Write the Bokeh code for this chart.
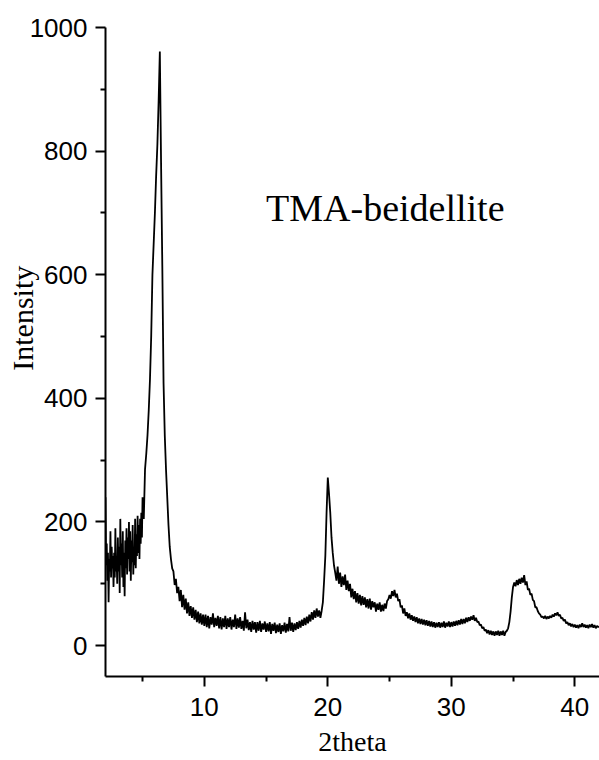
from bokeh.plotting import figure
from bokeh.models import Range1d, FixedTicker, Label
from bokeh.embed import file_html
from bokeh.resources import INLINE

# XRD pattern of TMA-beidellite.
# Low-angle part: 2theta 2.00 .. 4.95, step 0.05
low_start, low_step = 2.0, 0.05
intensity_low = [
    240, 130, 165, 105, 150, 70, 140, 120, 185, 110,
    160, 125, 145, 95, 150, 110, 190, 120, 140, 100,
    175, 120, 160, 85, 205, 130, 165, 110, 185, 95,
    150, 80, 170, 125, 190, 115, 175, 140, 200, 120,
    185, 105, 170, 135, 195, 115, 160, 130, 205, 125,
    180, 145, 210, 150, 195, 140, 205, 165, 215, 175,
]
# Main part: 2theta 5.0 .. 42.0, step 0.1
main_start, main_step = 5.0, 0.1
intensity_main = [
    240, 205, 285, 310, 340, 380, 430, 500, 600, 650,  # 5
    700, 760, 810, 880, 961, 780, 615, 425, 340, 285,  # 6
    240, 195, 160, 140, 125, 120, 98, 108, 85, 95,     # 7
    72, 90, 62, 82, 58, 76, 52, 70, 48, 64,            # 8
    45, 62, 42, 58, 38, 55, 36, 52, 34, 50,            # 9
    32, 50, 30, 48, 28, 46, 34, 52, 30, 45,            # 10
    32, 48, 28, 46, 26, 44, 30, 48, 27, 44,            # 11
    30, 46, 26, 42, 30, 50, 27, 44, 29, 46,            # 12
    27, 40, 24, 54, 28, 42, 25, 38, 22, 40,            # 13
    26, 38, 21, 38, 24, 40, 22, 36, 26, 39,            # 14
    22, 36, 23, 38, 19, 35, 24, 37, 20, 34,            # 15
    22, 36, 19, 33, 23, 37, 21, 35, 23, 46,            # 16
    24, 37, 22, 36, 25, 38, 27, 40, 29, 42,            # 17
    32, 45, 33, 47, 36, 50, 39, 54, 42, 57,            # 18
    45, 60, 47, 57, 45, 56, 70, 105, 145, 215,         # 19
    272, 245, 215, 175, 150, 130, 118, 105, 128, 100,  # 20
    118, 95, 112, 98, 115, 90, 105, 88, 100, 78,       # 21
    92, 75, 88, 70, 85, 68, 82, 65, 80, 66,            # 22
    78, 62, 75, 60, 76, 58, 72, 62, 70, 55,            # 23
    68, 58, 70, 55, 66, 56, 68, 60, 72, 75,            # 24
    82, 76, 88, 80, 90, 78, 84, 72, 75, 62,            # 25
    65, 52, 60, 48, 54, 44, 52, 42, 49, 40,            # 26
    47, 38, 46, 36, 44, 35, 43, 34, 42, 33,            # 27
    41, 32, 40, 31, 39, 30, 38, 29, 37, 30,            # 28
    38, 29, 37, 30, 39, 29, 37, 31, 39, 30,            # 29
    38, 31, 39, 32, 40, 33, 41, 34, 43, 35,            # 30
    43, 36, 45, 38, 46, 40, 47, 42, 49, 40,            # 31
    45, 38, 39, 33, 34, 28, 30, 24, 26, 20,            # 32
    25, 18, 24, 17, 23, 16, 23, 17, 24, 16,            # 33
    23, 17, 24, 16, 22, 24, 28, 38, 55, 78,            # 34
    95, 102, 96, 106, 98, 108, 100, 110, 102, 114,     # 35
    98, 104, 90, 92, 82, 84, 74, 72, 62, 62,           # 36
    56, 52, 50, 46, 47, 44, 48, 43, 47, 44,            # 37
    48, 45, 50, 47, 52, 49, 54, 48, 50, 44,            # 38
    45, 40, 42, 36, 38, 33, 36, 31, 35, 30,            # 39
    34, 29, 33, 28, 34, 30, 36, 30, 34, 29,            # 40
    33, 28, 34, 30, 35, 29, 33, 28, 32, 30,            # 41
    31,                                                # 42
]
two_theta = ([round(low_start + low_step * i, 3) for i in range(len(intensity_low))]
             + [round(main_start + main_step * i, 3) for i in range(len(intensity_main))])
intensity = intensity_low + intensity_main

x_ticks = [10, 20, 30, 40]
x_minor_ticks = [5, 15, 25, 35]
y_ticks = [0, 200, 400, 600, 800, 1000]
y_minor_ticks = [100, 300, 500, 700, 900]

sample_name = "TMA-beidellite"
x_title = "2theta"
y_title = "Intensity"

p = figure(width=599, height=760, output_backend="svg", toolbar_location=None,
           x_range=Range1d(2, 42), y_range=Range1d(-50, 1000),
           min_border_left=105, min_border_right=0, min_border_top=27,
           min_border_bottom=84)
p.outline_line_color = None
p.xgrid.visible = False
p.ygrid.visible = False
p.background_fill_color = "white"
p.border_fill_color = "white"

p.line(two_theta, intensity, line_color="black", line_width=1.8)

for ax, ticks, minor in ((p.xaxis[0], x_ticks, x_minor_ticks), (p.yaxis[0], y_ticks, y_minor_ticks)):
    ax.ticker = FixedTicker(ticks=ticks, minor_ticks=minor)
    ax.axis_line_width = 2
    ax.axis_line_color = "black"
    ax.major_tick_line_width = 2
    ax.minor_tick_line_width = 2
    ax.major_tick_out = 10
    ax.major_tick_in = 0
    ax.minor_tick_out = 5
    ax.minor_tick_in = 0
    ax.major_label_text_font = "Liberation Sans"
    ax.major_label_text_font_size = "26px"
    ax.major_label_text_color = "black"
    ax.axis_label_text_font = "Liberation Serif"
    ax.axis_label_text_font_style = "normal"
    ax.axis_label_text_color = "black"

p.xaxis.axis_label_text_font_size = "28px"
p.yaxis.axis_label_text_font_size = "30px"
p.yaxis.major_label_standoff = 8
p.xaxis.major_label_standoff = 11
p.xaxis.axis_label = x_title
# leading no-break spaces lift the rotated title towards the upper half, as in the source
p.yaxis.axis_label = "\u00a0" * 9 + y_title
p.xaxis.axis_label_standoff = 7
p.yaxis.axis_label_standoff = -12

p.add_layout(Label(x=15.0, y=708, text=sample_name,
                   text_font="Liberation Serif", text_font_size="38px",
                   text_align="left", text_baseline="alphabetic", text_color="black"))

open("out.html", "w").write(file_html(p, INLINE))
